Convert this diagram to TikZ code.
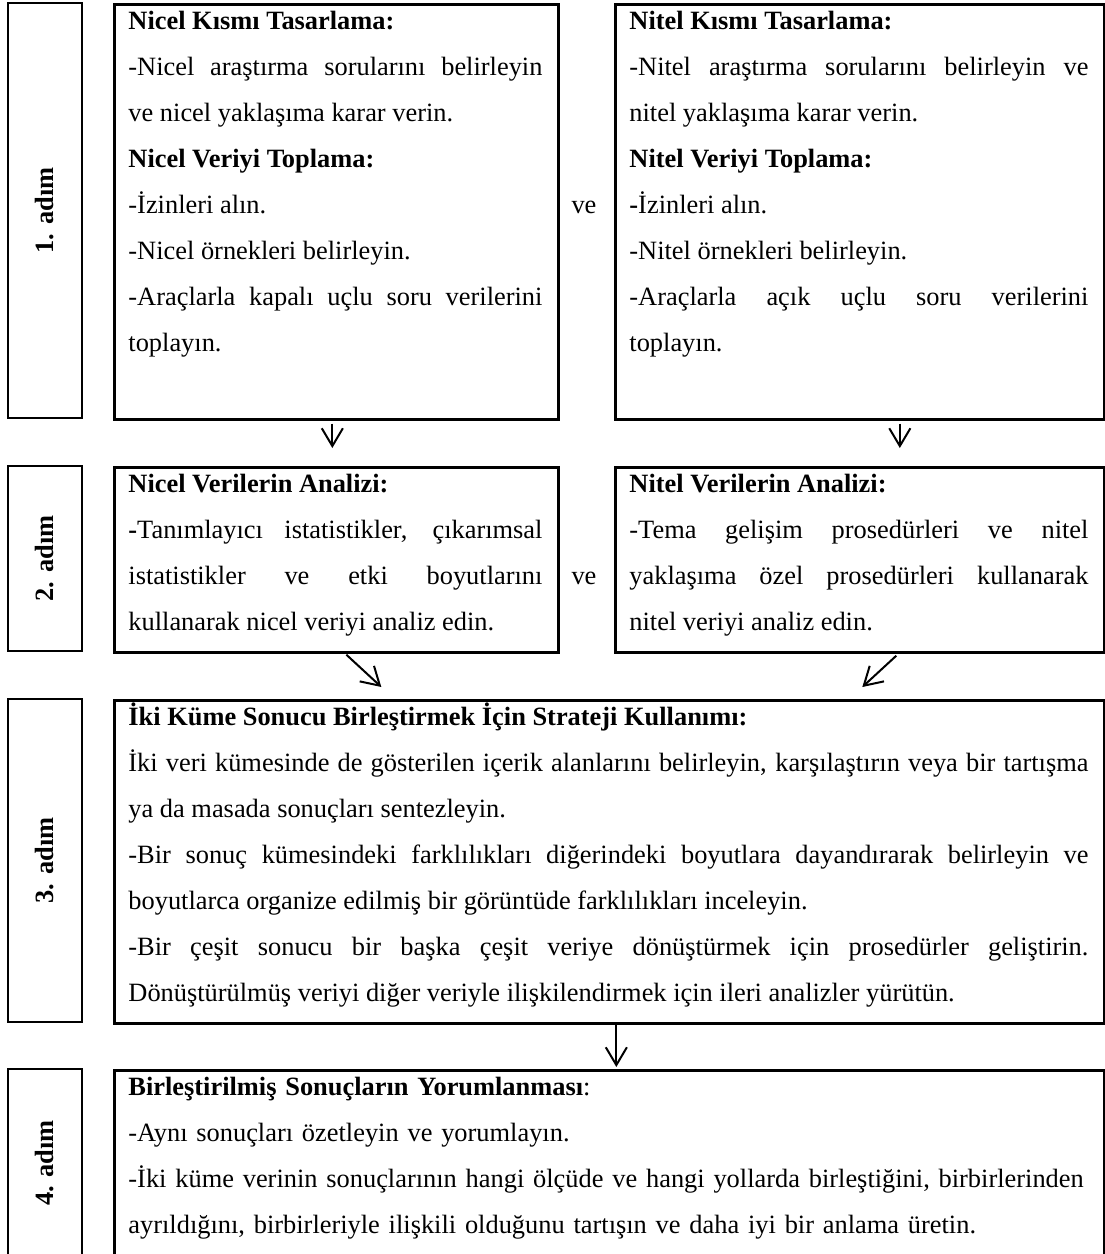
\documentclass[tikz,border=0pt]{standalone}
\usepackage{fontspec}
\setmainfont{Liberation Serif}
\usepackage{tikz}
\usetikzlibrary{arrows.meta, positioning, calc}
\hyphenpenalty=10000
\exhyphenpenalty=10000

\begin{document}
\begin{tikzpicture}[x=0.45pt, y=-0.45pt,
    font=\fontsize{11.88pt}{20.7pt}\selectfont,
    box/.style={draw, line width=1.2pt, anchor=north west, inner sep=0pt},
    lblbox/.style={draw, line width=1.2pt, rotate=90, inner sep=0pt, minimum height=33.3pt, font=\fontsize{11.88pt}{20.7pt}\selectfont\bfseries},
    txt/.style={anchor=base west, inner sep=0pt, align=justify},
    arr/.style={line width=0.9pt, -{Straight Barb[length=8pt, width=9.5pt]}}]
\useasboundingbox (0,0) rectangle (1105,1254);
\clip (0,0) rectangle (1105,1254);

% 1. adim
\node[lblbox, minimum width=186.75pt] (adim1) at (45,210.5) {1. adım};
\node[box, minimum width=199.8pt, minimum height=186.75pt] (nicelTas) at (113,3) {};
\node[box, minimum width=220.05pt, minimum height=186.75pt] (nitelTas) at (614,3) {};
\node[txt, text width=186.3pt] (nicelTasTx) at (128,29) {%
\textbf{Nicel Kısmı Tasarlama:}\par
-Nicel araştırma sorularını belirleyin\linebreak ve nicel yaklaşıma karar verin.\par
\textbf{Nicel Veriyi Toplama:}\par
-İzinleri alın.\par
-Nicel örnekleri belirleyin.\par
-Araçlarla kapalı uçlu soru verilerini\linebreak toplayın.};
\node[txt, text width=206.55pt] (nitelTasTx) at (629,29) {%
\textbf{Nitel Kısmı Tasarlama:}\par
-Nitel araştırma sorularını belirleyin ve\linebreak nitel yaklaşıma karar verin.\par
\textbf{Nitel Veriyi Toplama:}\par
\textbf{-}İzinleri alın.\par
-Nitel örnekleri belirleyin.\par
-Araçlarla açık uçlu soru verilerini\linebreak toplayın.};
\node[anchor=base, inner sep=0pt] (ve1) at (584,213) {ve};

% 2. adim
\node[lblbox, minimum width=83.25pt] (adim2) at (45,558.5) {2. adım};
\node[box, minimum width=199.8pt, minimum height=83.25pt] (nicelAn) at (113,466) {};
\node[box, minimum width=220.05pt, minimum height=83.25pt] (nitelAn) at (614,466) {};
\node[txt, text width=186.3pt] (nicelAnTx) at (128,492) {%
\textbf{Nicel Verilerin Analizi:}\par
\textbf{-}Tanımlayıcı istatistikler, çıkarımsal\linebreak istatistikler ve etki boyutlarını\linebreak kullanarak nicel veriyi analiz edin.};
\node[txt, text width=206.55pt] (nitelAnTx) at (629,492) {%
\textbf{Nitel Verilerin Analizi:}\par
-Tema gelişim prosedürleri ve nitel\linebreak yaklaşıma özel prosedürleri kullanarak\linebreak nitel veriyi analiz edin.};
\node[anchor=base, inner sep=0pt] (ve2) at (584,584) {ve};

% 3. adim
\node[lblbox, minimum width=145.35pt] (adim3) at (45,860.5) {3. adım};
\node[box, minimum width=445.5pt, minimum height=145.35pt] (birles) at (113,699) {};
\node[txt, text width=432pt] (birlesTx) at (128,725) {%
\textbf{İki Küme Sonucu Birleştirmek İçin Strateji Kullanımı:}\par
İki veri kümesinde de gösterilen içerik alanlarını belirleyin, karşılaştırın veya bir tartışma\linebreak ya da masada sonuçları sentezleyin.\par
-Bir sonuç kümesindeki farklılıkları diğerindeki boyutlara dayandırarak belirleyin ve\linebreak boyutlarca organize edilmiş bir görüntüde farklılıkları inceleyin.\par
-Bir çeşit sonucu bir başka çeşit veriye dönüştürmek için prosedürler geliştirin.\linebreak Dönüştürülmüş veriyi diğer veriyle ilişkilendirmek için ileri analizler yürütün.};

% 4. adim
\node[lblbox, minimum width=84.6pt] (adim4) at (45,1163) {4. adım};
\node[box, minimum width=445.5pt, minimum height=84.6pt] (yorum) at (113,1069) {};
\node[txt, text width=432pt, align=left] (yorumTx) at (128,1095) {%
\textbf{Birleştirilmiş Sonuçların Yorumlanması}:\\
-Aynı sonuçları özetleyin ve yorumlayın.\\
-İki küme verinin sonuçlarının hangi ölçüde ve hangi yollarda birleştiğini, birbirlerinden\\
ayrıldığını, birbirleriyle ilişkili olduğunu tartışın ve daha iyi bir anlama üretin.};

\draw[arr] ($(nicelTas.south)+(-4,3)$) -- ($(nicelAn.north)+(-4,-18)$);
\draw[arr] ($(nitelTas.south)+(40,3)$) -- ($(nitelAn.north)+(40,-18)$);
\draw[arr] ($(nicelAn.south)+(10,1)$) -- ($(birles.north)+(-228,-12)$);
\draw[arr] ($(nitelAn.south)+(36.5,2)$) -- ($(birles.north)+(253,-12)$);
\draw[arr] ($(birles.south)+(7,0)$) -- ($(yorum.north)+(7,-2)$);
\end{tikzpicture}
\end{document}
